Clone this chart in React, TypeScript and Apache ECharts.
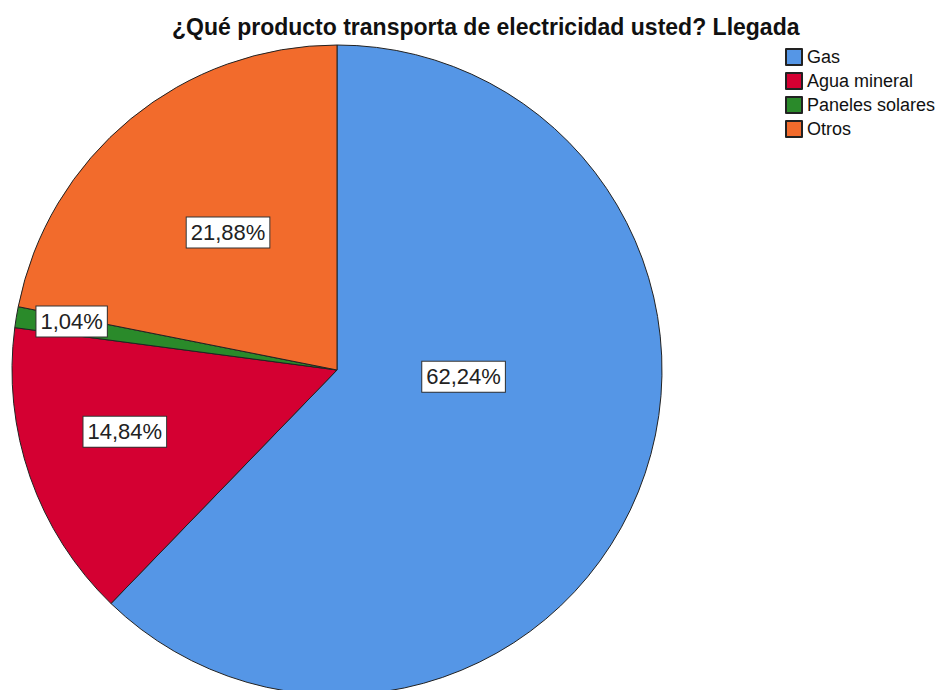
import React, { useEffect, useRef } from "react";
import * as echarts from "echarts";

const categories = ["Gas", "Agua mineral", "Paneles solares", "Otros"];
const percentages = [62.24, 14.84, 1.04, 21.88];
const colors = ["#5596e6", "#d40032", "#2a8a2a", "#f26b2c"];
const titleText = "¿Qué producto transporta de electricidad usted? Llegada";

// label placement (style): fraction of radius and angular offset in degrees
const labelRadiusFrac = [0.39, 0.68, 0.83, 0.54];
const labelAngleOffset = [-19, 3, 1, 1];

const CX = 337;
const CY = 370;
const R = 325;

export default function App() {
  const ref = useRef<HTMLDivElement>(null);
  useEffect(() => {
    document.body.style.margin = "0";
    const chart = echarts.init(ref.current!, null, { renderer: "svg" });
    const total = percentages.reduce((a, b) => a + b, 0);
    const mids: number[] = [];
    let acc = 0;
    percentages.forEach((v) => {
      mids.push(((acc + v / 2) / total) * 360);
      acc += v;
    });
    chart.setOption({
      animation: false,
      backgroundColor: "#fff",
      title: {
        text: titleText,
        left: 172,
        top: 15,
        padding: 0,
        textStyle: {
          fontFamily: "Liberation Sans, Arial, sans-serif",
          fontSize: 23,
          fontWeight: "bold",
          color: "#111",
        },
      },
      legend: {
        orient: "vertical",
        left: 785,
        top: 48,
        padding: 0,
        itemWidth: 16,
        itemHeight: 16,
        itemGap: 6,
        icon: "rect",
        data: categories,
        textStyle: {
          fontFamily: "Liberation Sans, Arial, sans-serif",
          fontSize: 18,
          color: "#111",
        },
      },
      series: [
        {
          type: "pie",
          center: [CX, CY],
          radius: [0, R],
          startAngle: 90,
          clockwise: true,
          color: colors,
          itemStyle: { borderColor: "#222", borderWidth: 1 },
          emphasis: { disabled: true },
          label: {
            show: true,
            position: "inside",
            formatter: (p: any) =>
              p.value.toFixed(2).replace(".", ",") + "%",
            fontFamily: "Liberation Sans, Arial, sans-serif",
            fontSize: 22,
            color: "#222",
            backgroundColor: "#fff",
            borderColor: "#333",
            borderWidth: 1,
            padding: [4, 4, 4, 4],
          },
          labelLine: { show: false },
          labelLayout: (params: any) => {
            const i = params.dataIndex;
            const ang = ((mids[i] + labelAngleOffset[i]) * Math.PI) / 180;
            const r = R * labelRadiusFrac[i];
            return {
              x: CX + r * Math.sin(ang),
              y: CY - r * Math.cos(ang),
              align: "center",
              verticalAlign: "middle",
            };
          },
          data: categories.map((name, i) => ({ name, value: percentages[i] })),
        },
      ],
    });
    return () => chart.dispose();
  }, []);
  return <div ref={ref} style={{ width: 941, height: 690 }} />;
}
